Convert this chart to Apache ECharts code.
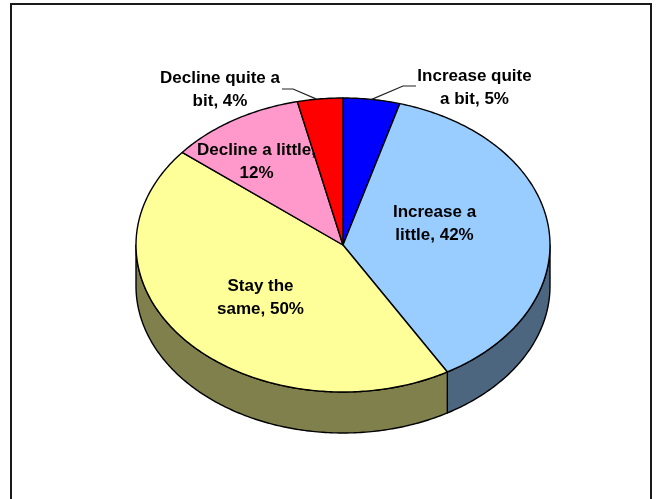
<!DOCTYPE html>
<html>
<head>
<meta charset="utf-8">
<style>html,body{margin:0;padding:0;background:#fff}#c{width:657px;height:499px}</style>
<script src="https://cdn.jsdelivr.net/npm/echarts@6/dist/echarts.min.js"></script>
</head>
<body>
<div id="c"></div>
<script>
const categories = ["Increase quite a bit", "Increase a little", "Stay the same", "Decline a little", "Decline quite a bit"];
const values = [5, 42, 50, 12, 4];
const labelLines = [
  ["Increase quite", "a bit, 5%"],
  ["Increase a", "little, 42%"],
  ["Stay the", "same, 50%"],
  ["Decline a little,", "12%"],
  ["Decline quite a", "bit, 4%"]
];
const topColors = ["#0000FF", "#99CCFF", "#FFFF99", "#FF99CC", "#FF0000"];
const sideColors = ["#000080", "#4D6680", "#80804D", "#804D66", "#800000"];

// Layout only (pixels)
const CX = 343, CY = 245, RX = 207, RY = 147, DEPTH = 41;
const labelAnchors = [[474.5, 88], [434.5, 224], [260.5, 298], [256.5, 162], [220, 90]];
const leaders = [[[403, 86], [416, 86]], null, null, null, [[293, 89], [282, 89]]];

const total = values.reduce((a, b) => a + b, 0);
function startFrac(i) { let s = 0; for (let k = 0; k < i; k++) s += values[k]; return s / total; }
function pt(t, dy) { return [CX + RX * Math.sin(t), CY - RY * Math.cos(t) + (dy || 0)]; }
function arc(t0, t1, dy) {
  const n = Math.max(2, Math.ceil(Math.abs(t1 - t0) / (Math.PI / 240)));
  const out = [];
  for (let i = 0; i <= n; i++) out.push(pt(t0 + (t1 - t0) * i / n, dy));
  return out;
}
const edge = { stroke: "#000", lineWidth: 1.4, lineJoin: "round" };
const TAU = Math.PI * 2;

function renderSide(params, api) {
  const i = params.dataIndex;
  const a0 = startFrac(i) * TAU;
  const a1 = a0 + api.value(0) / total * TAU;
  const lo = Math.max(a0, Math.PI / 2), hi = Math.min(a1, Math.PI * 1.5);
  if (hi <= lo) return { type: "group", children: [] };
  const pts = arc(lo, hi, 0).concat(arc(hi, lo, DEPTH));
  return { type: "polygon", shape: { points: pts },
    style: Object.assign({ fill: sideColors[i] }, edge) };
}
function renderTop(params, api) {
  const i = params.dataIndex;
  const a0 = startFrac(i) * TAU;
  const a1 = a0 + api.value(0) / total * TAU;
  const pts = [[CX, CY]].concat(arc(a0, a1, 0));
  return { type: "polygon", shape: { points: pts },
    style: Object.assign({ fill: topColors[i] }, edge) };
}
function renderLabel(params, api) {
  const i = params.dataIndex;
  const a0 = startFrac(i) * TAU;
  const mid = a0 + api.value(0) / total * TAU / 2;
  const children = [];
  if (leaders[i]) {
    const p = pt(mid, 0);
    children.push({ type: "polyline",
      shape: { points: [[p[0] - (i === 4 ? 4 : 0), p[1]], leaders[i][0], leaders[i][1]] },
      style: { stroke: "#222", lineWidth: 1.2, fill: null } });
  }
  children.push({ type: "text", x: labelAnchors[i][0], y: labelAnchors[i][1],
    style: { text: labelLines[i].join("\n"), align: "center", verticalAlign: "middle",
      font: 'bold 17px "Liberation Sans", Arial, sans-serif', lineHeight: 23.5, fill: "#000" } });
  return { type: "group", children };
}

const chart = echarts.init(document.getElementById("c"), null, { renderer: "canvas" });
const seriesData = categories.map((name, i) => ({ name, value: [values[i]] }));
chart.setOption({
  animation: false,
  backgroundColor: "#fff",
  graphic: [{ type: "rect", silent: true, z: 0,
    shape: { x: 11, y: 4, width: 640, height: 530 },
    style: { fill: null, stroke: "#1a1a1a", lineWidth: 2 } }],
  series: [
    { type: "custom", name: "side", coordinateSystem: "none", z: 2, silent: true, renderItem: renderSide, data: seriesData },
    { type: "custom", name: "top", coordinateSystem: "none", z: 3, silent: true, renderItem: renderTop, data: seriesData },
    { type: "custom", name: "labels", coordinateSystem: "none", z: 4, silent: true, renderItem: renderLabel, data: seriesData }
  ]
});
</script>
</body>
</html>
